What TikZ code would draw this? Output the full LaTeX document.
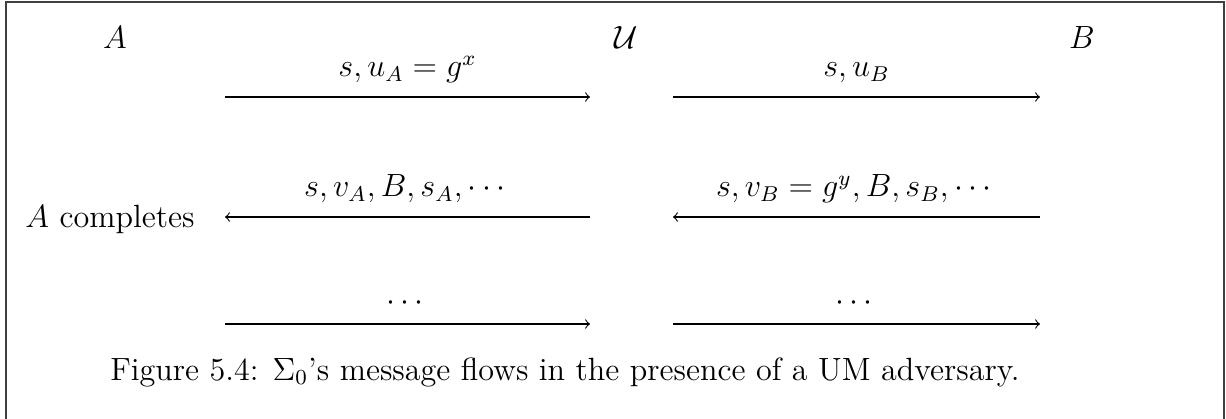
\documentclass[tikz,border=0pt]{standalone}
\usepackage{amsmath,amssymb}
\begin{document}
\begin{tikzpicture}[x=0.373pt,y=-0.373pt,
  every node/.style={font=\fontsize{12}{14}\selectfont, inner sep=0pt},
  msg/.style={->, line width=0.4pt},
  lbl/.style={above=5pt},
  frameline/.style={line width=0.75pt, black!75}]
\useasboundingbox (0,0) rectangle (1226,419);
% frame
\coordinate (fbl) at (6,419);
\coordinate (ftl) at (6,2);
\coordinate (ftr) at (1224,2);
\coordinate (fbr) at (1224,419);
\draw[frameline] (fbl) -- (ftl) -- (ftr) -- (fbr);
% parties
\node (A) at (115,38) {$A$};
\node (U) at (626,38) {$\mathcal{U}$};
\node (B) at (1082,38) {$B$};
\node (Acomp) at (110,219) {$A$ completes};
% arrow end points
\coordinate (l1) at (225,97);  \coordinate (r1) at (590,97);
\coordinate (l2) at (673,97);  \coordinate (r2) at (1040,97);
\coordinate (l3) at (225,217); \coordinate (r3) at (590,217);
\coordinate (l4) at (673,217); \coordinate (r4) at (1040,217);
\coordinate (l5) at (225,324); \coordinate (r5) at (590,324);
\coordinate (l6) at (673,324); \coordinate (r6) at (1040,324);
\draw[msg] (l1) -- node[lbl]{$s, u_A = g^x$} (r1);
\draw[msg] (l2) -- node[lbl]{$s, u_B$} (r2);
\draw[msg] (r3) -- node[lbl]{$s, v_A, B, s_A, \cdots$} (l3);
\draw[msg] (r4) -- node[lbl]{$s, v_B = g^y, B, s_B, \cdots$} (l4);
\draw[msg] (l5) -- node[lbl]{$\cdots$} (r5);
\draw[msg] (l6) -- node[lbl]{$\cdots$} (r6);
% caption
\node (cap) at (565,372) {Figure 5.4: $\Sigma_0$'s message flows in the presence of a UM adversary.};
\end{tikzpicture}
\end{document}
